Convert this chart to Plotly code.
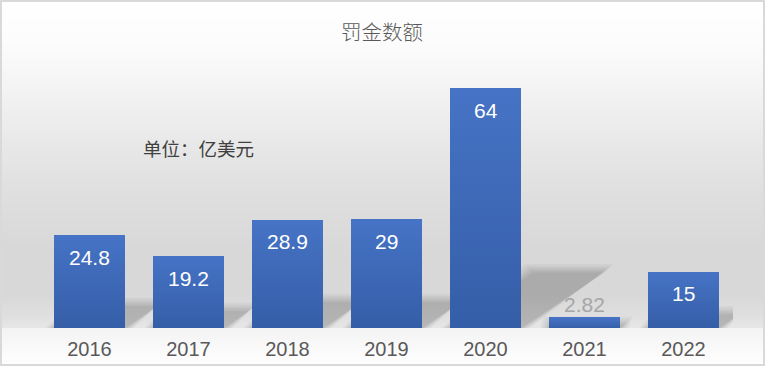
import plotly.graph_objects as go

# ---------------- data ----------------
years = ["2016", "2017", "2018", "2019", "2020", "2021", "2022"]
fines = [24.8, 19.2, 28.9, 29, 64, 2.82, 15]
value_labels = ["24.8", "19.2", "28.9", "29", "64", "2.82", "15"]
title_text = "罚金数额"
unit_text = "单位：亿美元"

# ---------------- geometry / style ----------------
W, H = 765, 366
ML, MR, MT, MB = 40, 32, 66, 38
PW, PH = W - ML - MR, H - MT - MB
YMAX = 70
BW = 0.71


def pxx(px):
    return (px - ML) / PW


def pxy(py):
    return (H - MB - py) / PH


def lerp(a, b, t):
    return a + (b - a) * t


def hexrgb(h):
    h = h.lstrip("#")
    return tuple(int(h[i:i + 2], 16) for i in (0, 2, 4))


fig = go.Figure()
shapes = []

# background gradient (vertical bands)
stops = [(0, "#ffffff"), (50, "#fbfbfb"), (100, "#f1f1f1"), (150, "#e7e7e7"),
         (200, "#dedede"), (250, "#d8d8d8"), (295, "#d8d8d8"), (315, "#dfdfdf"),
         (327, "#e6e6e6"), (328, "#f3f3f3"), (366, "#ffffff")]
step = 2
for y0 in range(0, H, step):
    yc = y0 + step / 2
    for (a, ca), (b, cb) in zip(stops[:-1], stops[1:]):
        if a <= yc <= b:
            t = (yc - a) / (b - a) if b > a else 0
            r1, g1, b1 = hexrgb(ca)
            r2, g2, b2 = hexrgb(cb)
            col = "rgb(%d,%d,%d)" % (round(lerp(r1, r2, t)), round(lerp(g1, g2, t)), round(lerp(b1, b2, t)))
            break
    shapes.append(dict(type="rect", xref="paper", yref="paper", layer="below",
                       x0=pxx(0), x1=pxx(W), y0=pxy(y0 + step + 0.3), y1=pxy(y0),
                       fillcolor=col, line=dict(width=0)))

xs = list(range(len(years)))
unit_px_y = PH / YMAX
cat_px = PW / len(years)

# perspective shadows (derived from values), drawn below the bars
for i, v in zip(xs, fines):
    rise = 0.23 * v                       # data units
    shift = 0.35 * v * unit_px_y / cat_px  # category units
    for e in [9, 7, 5, 3.5, 2, 0.5]:
        ex = e / cat_px
        ey = e / unit_px_y
        pts = [(i - BW / 2 - ex, 0), (i + BW / 2 + ex, 0),
               (i + BW / 2 + shift + ex, rise + ey), (i - BW / 2 + shift - ex, rise + ey)]
        path = "M " + " L ".join("%.4f,%.4f" % p for p in pts) + " Z"
        shapes.append(dict(type="path", xref="x", yref="y", layer="below", path=path,
                           fillcolor="rgba(0,0,0,0.035)", line=dict(width=0)))

# border
shapes.append(dict(type="rect", xref="paper", yref="paper", layer="above",
                   x0=pxx(1), x1=pxx(W - 1), y0=pxy(H - 1), y1=pxy(1),
                   line=dict(color="#d9d9d9", width=2), fillcolor="rgba(0,0,0,0)"))

# gradient bars (stacked thin slices of each value)
N = 30
top = hexrgb("#4673c5")
bot = hexrgb("#355ea8")
for k in range(N):
    t = (k + 0.5) / N
    col = "rgb(%d,%d,%d)" % tuple(round(lerp(bot[j], top[j], t)) for j in range(3))
    fig.add_trace(go.Bar(x=xs, y=[v / N * 1.02 if k < N - 1 else v / N for v in fines],
                         base=[v * k / N for v in fines], width=BW,
                         marker=dict(color=col, line=dict(width=0)),
                         hoverinfo="skip", showlegend=False))

annotations = []
for i, v, lab in zip(xs, fines, value_labels):
    inside = v * unit_px_y > 40
    annotations.append(dict(x=i, y=v, xref="x", yref="y", text=lab, showarrow=False,
                            yanchor="middle", yshift=-22 if inside else 13,
                            font=dict(family="Liberation Sans, Arial", size=21,
                                      color="#ffffff" if inside else "#a6a6a6")))

annotations.append(dict(x=pxx(382), y=pxy(31), xref="paper", yref="paper", text=title_text,
                        showarrow=False, xanchor="center", yanchor="middle",
                        font=dict(family="Noto Sans CJK SC", size=20.5, color="#595959", weight=300)))
annotations.append(dict(x=pxx(198), y=pxy(148), xref="paper", yref="paper", text=unit_text,
                        showarrow=False, xanchor="center", yanchor="middle",
                        font=dict(family="Noto Sans CJK SC", size=18.5, color="#404040")))

fig.update_layout(
    width=W, height=H, margin=dict(l=ML, r=MR, t=MT, b=MB, pad=0, autoexpand=False),
    paper_bgcolor="rgba(0,0,0,0)", plot_bgcolor="rgba(0,0,0,0)",
    barmode="overlay", bargap=0, showlegend=False,
    shapes=shapes, annotations=annotations,
    xaxis=dict(range=[-0.5, len(years) - 0.5], tickvals=xs, ticktext=years,
               showgrid=False, zeroline=False, showline=False, ticks="",
               ticklabelstandoff=7, automargin=False,
               tickfont=dict(family="Liberation Sans, Arial", size=20, color="#595959"),
               fixedrange=True),
    yaxis=dict(range=[0, YMAX], visible=False, fixedrange=True, automargin=False),
)

fig.write_html("out.html", config={"displayModeBar": False},
               post_script="document.body.style.margin='0';document.body.style.overflow='hidden';")
